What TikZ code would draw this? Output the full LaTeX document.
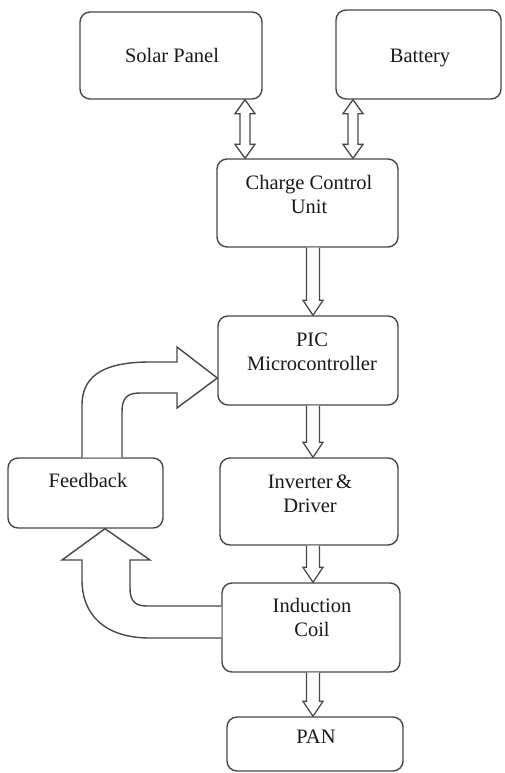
\documentclass[tikz,border=0pt]{standalone}
\usepackage{fontspec}
\setmainfont{Liberation Serif}
\newfontfamily\tnr{Liberation Serif}
\usetikzlibrary{calc}
\definecolor{linec}{HTML}{484848}
\tikzset{
  box/.style={draw=linec, line width=1.4pt, rounded corners=10pt, inner sep=0pt, fill=white},
  txt/.style={font=\tnr\fontsize{20.5}{24}\selectfont, align=center, inner sep=0pt, anchor=base, text=black!90},
  blk/.style={draw=linec, line width=1.3pt, line join=miter, fill=white},
  curv/.style={draw=linec, line width=1.4pt, line join=miter, fill=white}
}
\newcommand\darrow[3]{%
  \draw[blk] let \p1=(#2.south), \p2=(#3.north) in
   (#1pt,\y1) -- (#1pt+10pt,\y1-14pt) -- (#1pt+5pt,\y1-14pt) -- (#1pt+5pt,\y2+14pt)
   -- (#1pt+10pt,\y2+14pt) -- (#1pt,\y2) -- (#1pt-10pt,\y2+14pt) -- (#1pt-5pt,\y2+14pt)
   -- (#1pt-5pt,\y1-14pt) -- (#1pt-10pt,\y1-14pt) -- cycle;}
\newcommand\sarrow[3]{%
  \draw[blk] let \p1=(#2.south), \p2=(#3.north) in
   (#1pt-6.5pt,\y1) -- (#1pt-6.5pt,\y2+15pt) -- (#1pt-10pt,\y2+15pt) -- (#1pt,\y2)
   -- (#1pt+10pt,\y2+15pt) -- (#1pt+6.5pt,\y2+15pt) -- (#1pt+6.5pt,\y1);}
\begin{document}
\begin{tikzpicture}[x=1pt,y=-1pt]
\useasboundingbox[fill=white] (0,0) rectangle (504,773);
% boxes
\node[box, minimum width=182pt, minimum height=87pt] (sp)  at (171,55.5) {};
\node[box, minimum width=165pt, minimum height=89pt] (bat) at (418.5,54.5) {};
\node[box, minimum width=181pt, minimum height=88pt] (ccu) at (307.5,203) {};
\node[box, minimum width=180pt, minimum height=89pt] (pic) at (308,360.5) {};
\node[box, minimum width=178pt, minimum height=87pt] (inv) at (309,501.5) {};
\node[box, minimum width=155pt, minimum height=70pt] (fb)  at (85.5,493) {};
\node[box, minimum width=178pt, minimum height=89pt] (ind) at (311,627.5) {};
\node[box, minimum width=176pt, minimum height=54pt] (pan) at (315,744) {};
% texts (anchor base = baseline of last line)
\node[txt] (spt)  at (172,63)  {Solar Panel};
\node[txt] (batt) at (420,63)  {Battery};
\node[txt] (ccut) at (309,213) {Charge Control\\Unit};
\node[txt] (pict) at (312,370) {PIC\\Microcontroller};
\node[txt] (invt) at (310,512) {Inverter\,\&\\Driver};
\node[txt] (fbt)  at (88,487)  {Feedback};
\node[txt] (indt) at (312,636) {Induction\\Coil};
\node[txt] (pant) at (316,743) {PAN};
% straight block arrows
\darrow{245}{sp}{ccu}
\darrow{353}{bat}{ccu}
\sarrow{313}{ccu}{pic}
\sarrow{313}{pic}{inv}
\sarrow{313}{inv}{ind}
\sarrow{313}{ind}{pan}
% feedback -> PIC curved arrow
\draw[curv] (82,0 |- fb.north) -- (82,405) .. controls (82,372) and (110,362) .. (150,362)
  -- (177,362) -- (177,347) -- (pic.west |- 0,378) -- (177,408) -- (177,393) -- (140,393)
  .. controls (127,393) and (122,398) .. (122,412) -- (122,0 |- fb.north);
% induction coil -> feedback curved arrow
\draw[curv] (ind.west |- 0,638) -- (150,638) .. controls (105,638) and (82,615) .. (82,580)
  -- (82,560) -- (62,560) -- (105,0 |- fb.south) -- (150,560) -- (130,560) -- (130,588)
  .. controls (130,601) and (135,606) .. (147,606) -- (ind.west |- 0,606);
\end{tikzpicture}
\end{document}
